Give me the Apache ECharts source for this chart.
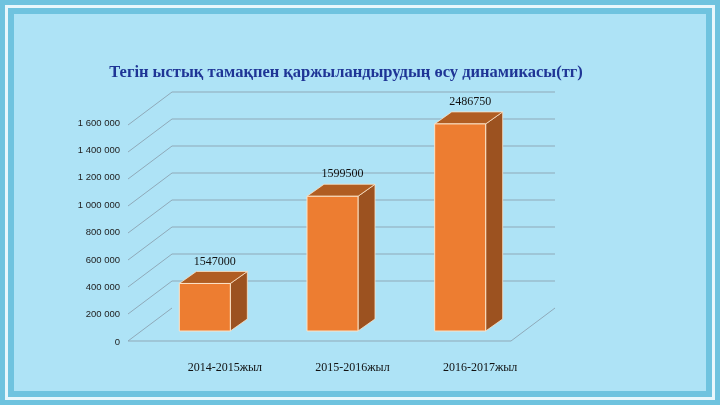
<!DOCTYPE html>
<html>
<head>
<meta charset="utf-8">
<script src="https://cdn.jsdelivr.net/npm/echarts@6/dist/echarts.min.js"></script>
<style>
  html, body { margin: 0; padding: 0; }
  #frame {
    width: 720px; height: 405px; box-sizing: border-box;
    background: #aee3f6;
    border: 14px solid #6fc3df;
    outline: 3px solid #e8f7fc; outline-offset: -8px;
  }
  #chart { width: 692px; height: 377px; }
</style>
</head>
<body>
<div id="frame"><div id="chart"></div></div>
<script>
const categories = ['2014-2015жыл', '2015-2016жыл', '2016-2017жыл'];
const values = [352000, 998000, 1534000];
const labels = ['1547000', '1599500', '2486750'];
const ticks = [0, 200000, 400000, 600000, 800000, 1000000, 1200000, 1400000, 1600000];

// chart is offset by the 14px frame
const off = 14;
const chart = echarts.init(document.getElementById('chart'));

// depth offsets (back wall -> front)
const wallDx = -44, wallDy = 33;
const barDx = -31, barDy = 23;
const topDx = 17, topDy = -12;

function wallItem(params, api) {
  const v = api.value(0);
  const band = api.size([1, 0])[0];
  const left = api.coord([0, v])[0] - band / 2;
  const right = api.coord([2, v])[0] + band / 2;
  const y = api.coord([0, v])[1];
  const style = { stroke: '#8fa9b8', lineWidth: 1, fill: null };
  const pts = v === 0
    ? [[left, y], [left + wallDx, y + wallDy], [right + wallDx, y + wallDy], [right, y]]
    : [[left + wallDx, y + wallDy], [left, y], [right, y]];
  return { type: 'polyline', shape: { points: pts }, style: style, silent: true };
}

function barItem(params, api) {
  const i = api.value(0);
  const v = api.value(1);
  const w = 51;
  const base = api.coord([i, 0]);
  const top = api.coord([i, v]);
  const x0 = base[0] + barDx - w / 2, x1 = x0 + w;
  const yb = base[1] + barDy, yt = top[1] + barDy;
  const edge = '#fbe3c8';
  return {
    type: 'group',
    children: [
      { type: 'polygon', shape: { points: [[x1, yb], [x1, yt], [x1 + topDx, yt + topDy], [x1 + topDx, yb + topDy]] },
        style: { fill: '#9c5220', stroke: edge, lineWidth: 0.8 } },
      { type: 'polygon', shape: { points: [[x0, yt], [x1, yt], [x1 + topDx, yt + topDy], [x0 + topDx, yt + topDy]] },
        style: { fill: '#b05d22', stroke: edge, lineWidth: 0.8 } },
      { type: 'rect', shape: { x: x0, y: yt, width: w, height: yb - yt },
        style: { fill: '#ed7d31', stroke: edge, lineWidth: 1 } },
      { type: 'text', x: x0 + w / 2 + 10, y: yt + topDy - 4,
        style: { text: labels[i], fill: '#111', font: '12px "Liberation Serif"', align: 'center', verticalAlign: 'bottom' } }
    ]
  };
}

const option = {
  animation: false,
  title: {
    text: 'Тегін ыстық тамақпен қаржыландырудың өсу динамикасы(тг)',
    left: 341 - off, top: 59 - off, textAlign: 'center',
    textStyle: { color: '#1f3596', fontFamily: 'Liberation Serif', fontSize: 16.5, fontWeight: 'bold' }
  },
  grid: [
    { left: 172 - off, right: 720 - 555 - off, top: 92 - off, bottom: 405 - 308 - off },
    { left: 128 - off, right: 720 - 513 - off, top: 123 - off, bottom: 405 - 342 - off }
  ],
  xAxis: [
    { type: 'category', data: categories, gridIndex: 0,
      axisLine: { show: false }, axisTick: { show: false },
      axisLabel: { margin: 54, color: '#111', fontFamily: 'Liberation Serif', fontSize: 12,
        padding: [0, 22, 0, 0] } },
    { type: 'value', gridIndex: 1, show: false }
  ],
  yAxis: [
    { type: 'value', gridIndex: 0, min: 0, max: 1600000, interval: 200000,
      axisLabel: { show: false }, splitLine: { show: false }, axisLine: { show: false } },
    { type: 'value', gridIndex: 1, min: 0, max: 1600000, interval: 200000,
      axisLine: { show: false }, axisTick: { show: false }, splitLine: { show: false },
      axisLabel: { color: '#222', fontFamily: 'Liberation Sans', fontSize: 9.5, margin: 8,
        formatter: v => v.toLocaleString('ru-RU').replace(/\s/g, ' ') } }
  ],
  series: [
    { type: 'custom', xAxisIndex: 0, yAxisIndex: 0, renderItem: wallItem,
      data: ticks.map(t => [t]), encode: { y: 0 }, z: 1 },
    { type: 'custom', xAxisIndex: 0, yAxisIndex: 0, renderItem: barItem,
      data: values.map((v, i) => [i, v]), encode: { x: 0, y: 1 }, z: 2 }
  ]
};
chart.setOption(option);
</script>
</body>
</html>
